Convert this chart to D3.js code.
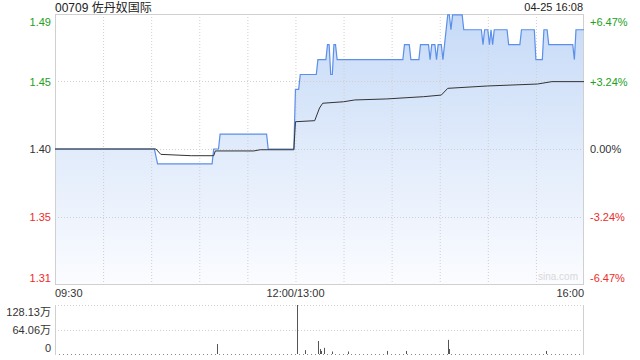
<!DOCTYPE html>
<html><head><meta charset="utf-8">
<script src="https://cdn.jsdelivr.net/npm/d3@7"></script>
<style>
html,body{margin:0;padding:0;background:#fff;}
text{font-family:"Liberation Sans","Noto Sans CJK SC",Arial,sans-serif;}
</style></head>
<body><svg id="c" width="640" height="360"></svg>
<script>
// ---------- data ----------
const title = "00709 佐丹奴国际";
const stamp = "04-25 16:08";
const prevClose = 1.40;
const rangePct = 0.0647;
const priceLabels = ["1.49", "1.45", "1.40", "1.35", "1.31"];
const pctLabels = ["+6.47%", "+3.24%", "0.00%", "-3.24%", "-6.47%"];
const timeLabels = ["09:30", "12:00/13:00", "16:00"];
const volLabels = ["128.13万", "64.06万", "0"];
const volMax = 128.13;

// price keyframes (minute, price)
const priceTimes = ["09:30","10:32","10:34","11:08","11:09","11:12","11:13","11:42","11:43","11:59",
 "13:00","13:02","13:03","13:13","13:14","13:19","13:20","13:21","13:22","13:23","13:24","13:25","13:26",
 "14:07","14:08","14:11","14:12","14:17","14:18","14:23","14:24","14:25","14:27","14:28","14:29","14:31","14:32","14:33",
 "14:35","14:36","14:37","14:38","14:44","14:45","14:56","14:57","14:58","15:00","15:01","15:02","15:03","15:04",
 "15:12","15:13","15:20","15:21","15:29","15:30","15:34","15:35","15:37","15:38","15:53","15:54","15:55","16:00"];
const priceValues = [1.40,1.40,1.39,1.39,1.40,1.40,1.41,1.41,1.40,1.40,
 1.44,1.44,1.45,1.45,1.46,1.46,1.47,1.47,1.45,1.45,1.47,1.47,1.46,
 1.46,1.47,1.47,1.46,1.46,1.47,1.47,1.46,1.47,1.47,1.46,1.47,1.47,1.46,1.47,
 1.49,1.49,1.48,1.49,1.49,1.48,1.48,1.47,1.48,1.48,1.47,1.48,1.47,1.48,
 1.48,1.47,1.47,1.48,1.48,1.46,1.46,1.48,1.48,1.47,1.47,1.46,1.48,1.48];

// average price keyframes
const avgTimes = ["09:30","10:33","10:36","10:55","11:09","11:10","11:34","11:38","11:59",
 "13:00","13:12","13:15","13:17","13:30","13:37","13:57","14:09","14:20","14:31","14:35","15:00","15:31","15:40","16:00"];
const avgValues = [1.40,1.40,1.3964,1.3955,1.3955,1.3987,1.3987,1.3995,1.3995,
 1.4183,1.4190,1.4275,1.4307,1.4317,1.4329,1.4336,1.4344,1.4351,1.4362,1.4407,1.4423,1.4436,1.4452,1.4452];

// notable volume bars (万)
const volTimes = ["11:11","13:01","13:06","13:14","13:15","13:16","13:18","13:23","13:33","13:57","14:09","14:35","14:36","15:36"];
const volValues = [26, 128.13, 10, 34, 13, 8, 16, 6.5, 6.5, 8, 8, 37, 13, 8];

// ---------- helpers ----------
function idx(t){
  const [h,m] = t.split(":").map(Number);
  const mm = h*60+m;
  return mm <= 720 ? mm - 570 : mm - 780 + 150;
}

const svg = d3.select("#c");
const L = 55, R = 584, T = 14, B = 284;
const VT = 305, VB = 354;
const green = "#22a022", red = "#ee2b2b", gridC = "#cfcfcf";

const x = d3.scaleLinear().domain([0, 330]).range([L, R]);
const y = d3.scaleLinear().domain([prevClose*(1-rangePct), prevClose*(1+rangePct)]).range([B, T]);
const yv = d3.scaleLinear().domain([0, volMax]).range([VB, VT]);

const gridVals = [rangePct, rangePct/2, 0, -rangePct/2, -rangePct].map(p => prevClose*(1+p));

// gradient
const defs = svg.append("defs");
const grad = defs.append("linearGradient").attr("id","g").attr("gradientUnits","userSpaceOnUse")
  .attr("x1",0).attr("x2",0).attr("y1",T).attr("y2",B);
grad.append("stop").attr("offset","0%").attr("stop-color","#c6daf7");
grad.append("stop").attr("offset","100%").attr("stop-color","#fbfcff");

// price data
const pdata = priceTimes.map((t,i)=>({i:idx(t), v:priceValues[i]}));
const adata = avgTimes.map((t,i)=>({i:idx(t), v:avgValues[i]}));

// area
svg.append("path").datum(pdata)
  .attr("d", d3.area().x(d=>x(d.i)).y0(B).y1(d=>y(d.v)))
  .attr("fill","url(#g)");

// vertical grid
const vt = d3.range(30, 330, 30);
svg.append("g").selectAll("line").data(vt).join("line")
  .attr("x1",d=>x(d)+0.5).attr("x2",d=>x(d)+0.5).attr("y1",T).attr("y2",B)
  .attr("stroke",gridC).attr("stroke-dasharray","1,2");

// horizontal grid
svg.append("g").selectAll("line").data(gridVals.slice(1,4)).join("line")
  .attr("x1",L).attr("x2",R).attr("y1",d=>Math.round(y(d))+0.5).attr("y2",d=>Math.round(y(d))+0.5)
  .attr("stroke",gridC).attr("stroke-dasharray","1,2");

// border
svg.append("rect").attr("x",L+0.5).attr("y",T+0.5).attr("width",R-L-1).attr("height",B-T)
  .attr("fill","none").attr("stroke","#d0d0d0");

// lines
svg.append("path").datum(pdata)
  .attr("d", d3.line().x(d=>x(d.i)).y(d=>y(d.v)))
  .attr("fill","none").attr("stroke","#5b8fe9").attr("stroke-width",1.2);
svg.append("path").datum(adata)
  .attr("d", d3.line().x(d=>x(d.i)).y(d=>y(d.v)))
  .attr("fill","none").attr("stroke","#333").attr("stroke-width",1);

// left axis
const colorFor = i => i<2 ? green : (i===2 ? "#333" : red);
const yl = d3.axisLeft(y).tickValues(gridVals).tickSize(0).tickPadding(4)
  .tickFormat((d,i)=>priceLabels[i]);
const gl = svg.append("g").attr("transform",`translate(${L},0)`).call(yl);
gl.select(".domain").remove();
gl.selectAll("text").attr("font-size",11).attr("fill",(d,i)=>colorFor(i))
  .attr("dy",(d,i)=> i===0 ? "1.0em" : (i===4 ? "-0.25em" : "0.32em"));

const yr = d3.axisRight(y).tickValues(gridVals).tickSize(0).tickPadding(6)
  .tickFormat((d,i)=>pctLabels[i]);
const gr = svg.append("g").attr("transform",`translate(${R},0)`).call(yr);
gr.select(".domain").remove();
gr.selectAll("text").attr("font-size",11).attr("fill",(d,i)=>colorFor(i))
  .attr("dy",(d,i)=> i===0 ? "1.0em" : (i===4 ? "-0.25em" : "0.32em"));

// x labels
const xt = [0, 150, 330];
svg.append("g").selectAll("text").data(xt).join("text")
  .attr("x",d=>x(d)).attr("y",297)
  .attr("text-anchor",(d,i)=> i===0 ? "start" : (i===1 ? "middle" : "end"))
  .attr("font-size",11).attr("fill","#333").text((d,i)=>timeLabels[i]);

// title & stamp
svg.append("text").attr("x",L).attr("y",12).attr("font-size",12).attr("fill","#222").text(title);
svg.append("text").attr("x",R-1).attr("y",11).attr("text-anchor","end").attr("font-size",11).attr("fill","#222").text(stamp);

// watermark
svg.append("text").attr("x",R-6).attr("y",B-4).attr("text-anchor","end").attr("font-size",10)
  .attr("fill","#d8d8d8").text("sina.com");

// volume panel
const vg = [volMax, volMax/2];
svg.append("g").selectAll("line").data(vg).join("line")
  .attr("x1",L).attr("x2",R).attr("y1",d=>Math.round(yv(d))+0.5).attr("y2",d=>Math.round(yv(d))+0.5)
  .attr("stroke",gridC).attr("stroke-dasharray","1,2");
svg.append("line").attr("x1",L).attr("x2",R).attr("y1",VB+0.5).attr("y2",VB+0.5)
  .attr("stroke","#888").attr("stroke-dasharray","1,3");
svg.append("line").attr("x1",L+0.5).attr("x2",L+0.5).attr("y1",VT).attr("y2",VB+1).attr("stroke","#d0d0d0");
svg.append("line").attr("x1",R-0.5).attr("x2",R-0.5).attr("y1",VT).attr("y2",VB+1).attr("stroke","#d0d0d0");

svg.append("g").selectAll("line").data(volTimes.map((t,i)=>({i:idx(t), v:volValues[i]}))).join("line")
  .attr("x1",d=>Math.round(x(d.i))+0.5).attr("x2",d=>Math.round(x(d.i))+0.5)
  .attr("y1",yv(0)).attr("y2",d=>yv(d.v)).attr("stroke","#555").attr("stroke-width",1);

const yvA = d3.axisLeft(yv).tickValues([volMax, volMax/2, 0]).tickSize(0).tickPadding(4)
  .tickFormat((d,i)=>volLabels[i]);
const gv = svg.append("g").attr("transform",`translate(${L},0)`).call(yvA);
gv.select(".domain").remove();
gv.selectAll("text").attr("font-size",11).attr("fill","#333")
  .attr("dy",(d,i)=> i===0 ? "0.95em" : (i===2 ? "-0.2em" : "0.32em"));
</script></body></html>
